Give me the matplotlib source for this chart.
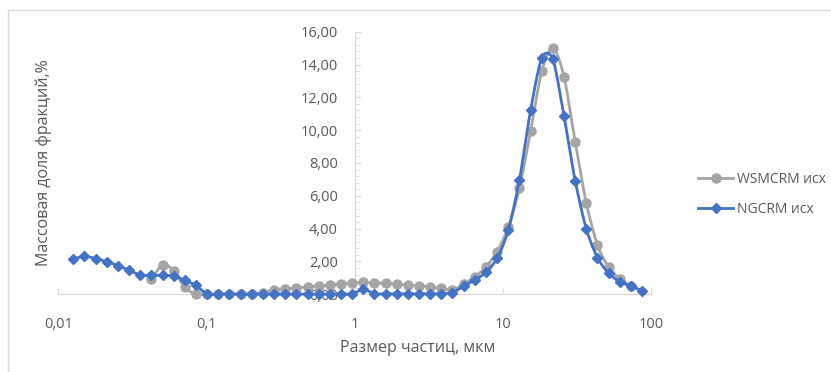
import matplotlib
matplotlib.use("Agg")
from matplotlib import pyplot as plt
from matplotlib.patches import Rectangle
from matplotlib.ticker import FuncFormatter, MultipleLocator
import numpy as np

# particle size classes, um (quarter-octave steps)
sizes = [0.01263, 0.01502, 0.01786, 0.02124, 0.02526, 0.03004, 0.03572, 0.04248,
         0.05052, 0.06008, 0.07145, 0.08497, 0.1010, 0.1202, 0.1429, 0.1699,
         0.2021, 0.2403, 0.2858, 0.3399, 0.4042, 0.4807, 0.5716, 0.6798,
         0.8084, 0.9614, 1.143, 1.360, 1.617, 1.923, 2.287, 2.719,
         3.234, 3.846, 4.573, 5.439, 6.468, 7.691, 9.147, 10.88,
         12.94, 15.38, 18.29, 21.75, 25.87, 30.76, 36.59, 43.51,
         51.74, 61.53, 73.18, 87.02]

# WSMCRM (nan = no data)
wsm = [np.nan, np.nan, np.nan, np.nan, np.nan, np.nan, np.nan, 0.91,
       1.81, 1.44, 0.42, 0.0, 0.0, 0.0, 0.0, 0.0,
       0.0, 0.10, 0.28, 0.34, 0.38, 0.46, 0.50, 0.57,
       0.63, 0.68, 0.72, 0.69, 0.67, 0.61, 0.57, 0.51,
       0.46, 0.37, 0.27, 0.62, 1.07, 1.66, 2.60, 4.08,
       6.46, 9.92, 13.58, 15.03, 13.27, 9.30, 5.55, 3.00,
       1.65, 0.93, 0.50, np.nan]

# NGCRM
ng = [2.15, 2.32, 2.18, 1.99, 1.75, 1.46, 1.18, 1.15,
      1.16, 1.11, 0.86, 0.54, 0.02, 0.02, 0.02, 0.02,
      0.02, 0.02, 0.02, 0.02, 0.02, 0.02, 0.02, 0.02,
      0.02, 0.02, 0.30, 0.03, 0.03, 0.03, 0.03, 0.03,
      0.03, 0.03, 0.10, 0.50, 0.87, 1.34, 2.19, 3.90,
      6.97, 11.20, 14.39, 14.33, 10.87, 6.93, 3.98, 2.23,
      1.28, 0.77, 0.51, 0.22]

series_names = ["WSMCRM исх", "NGCRM исх"]
xtick_vals = [0.01, 0.1, 1, 10, 100]
xtick_text = ["0,01", "0,1", "1", "10", "100"]


def smooth(x, y, n=12, s=0.8):
    # smoothed line like Excel's: cardinal spline in (log x, y)
    x = np.asarray(x, float)
    y = np.asarray(y, float)
    ok = ~np.isnan(y)
    u, v = np.log10(x[ok]), y[ok]
    t = np.linspace(0, 1, n, endpoint=False)
    h00 = 2 * t**3 - 3 * t**2 + 1
    h10 = t**3 - 2 * t**2 + t
    h01 = -2 * t**3 + 3 * t**2
    h11 = t**3 - t**2
    uu, vv = [], []
    for a, out in ((u, uu), (v, vv)):
        m = np.empty_like(a)
        m[1:-1] = s * (a[2:] - a[:-2]) / 2
        m[0] = s * (a[1] - a[0])
        m[-1] = s * (a[-1] - a[-2])
        for i in range(len(a) - 1):
            out.extend(h00 * a[i] + h10 * m[i] + h01 * a[i + 1] + h11 * m[i + 1])
        out.append(a[-1])
    return 10 ** np.array(uu), np.array(vv)


plt.rcParams['font.family'] = ['Open Sans', 'DejaVu Sans']
txt = '#595959'

fig = plt.figure(figsize=(8.31, 3.72), dpi=100)
ax = fig.add_axes([58.3 / 831, 1 - 294.3 / 372, (651 - 58.3) / 831, (294.3 - 31.7) / 372])

gray = '#A5A5A5'
blue = '#4472C4'

sx, sy = smooth(sizes, wsm)
ax.plot(sx, sy, color=gray, lw=2.0, zorder=3, clip_on=False)
ax.plot(sizes, wsm, 'o', color=gray, ms=6.5, zorder=3, clip_on=False)
bx, by = smooth(sizes, ng)
ax.plot(bx, by, color=blue, lw=2.0, zorder=4, clip_on=False)
ax.plot(sizes, ng, 'D', color=blue, ms=5, zorder=4, clip_on=False)

ax.set_xscale('log')
ax.set_xlim(0.01, 100)
ax.set_ylim(0, 16)
ax.set_axisbelow(True)

for s in ['top', 'right']:
    ax.spines[s].set_visible(False)
ax.spines['left'].set_position(('data', 1))
ax.spines['left'].set_color('#D9D9D9')
ax.spines['bottom'].set_color('#D9D9D9')

ax.yaxis.set_major_locator(MultipleLocator(2))
ax.yaxis.set_minor_locator(MultipleLocator(0.4))
ax.yaxis.set_major_formatter(FuncFormatter(lambda v, p: f"{v:.2f}".replace('.', ',')))
ax.tick_params(axis='y', which='major', direction='in', length=4, color='#D9D9D9',
               labelsize=10.5, labelcolor=txt, pad=12)
ax.tick_params(axis='y', which='minor', direction='in', length=3, color='#D9D9D9')

ax.set_xticks(xtick_vals, xtick_text)
ax.xaxis.set_minor_locator(plt.NullLocator())
ax.tick_params(axis='x', which='major', direction='in', length=4, color='#D9D9D9',
               labelsize=10.5, labelcolor=txt, pad=16)

fig.text(418 / 831, 1 - 348 / 372, "Размер частиц, мкм", ha='center', va='center',
         fontsize=11.5, color=txt)
fig.text(44 / 831, 1 - 163 / 372, "Массовая доля фракций,%", ha='center', va='center',
         rotation=90, fontsize=11.5, color=txt)

h1, = ax.plot([], [], '-o', color=gray, lw=2.0, ms=6.5)
h2, = ax.plot([], [], '-D', color=blue, lw=2.0, ms=5)
fig.legend([h1, h2], series_names, loc='center left', bbox_to_anchor=(0.832, 0.477),
           frameon=False, fontsize=10, labelcolor=txt, handlelength=2.5,
           handletextpad=0.25, labelspacing=1.05, borderpad=0)

fig.patches.append(Rectangle((8 / 831, -0.2), 1.5, 0.2 + 1 - 10 / 372, transform=fig.transFigure,
                             fill=False, edgecolor='#D9D9D9', lw=1))

fig.savefig('out.png', dpi=100)
